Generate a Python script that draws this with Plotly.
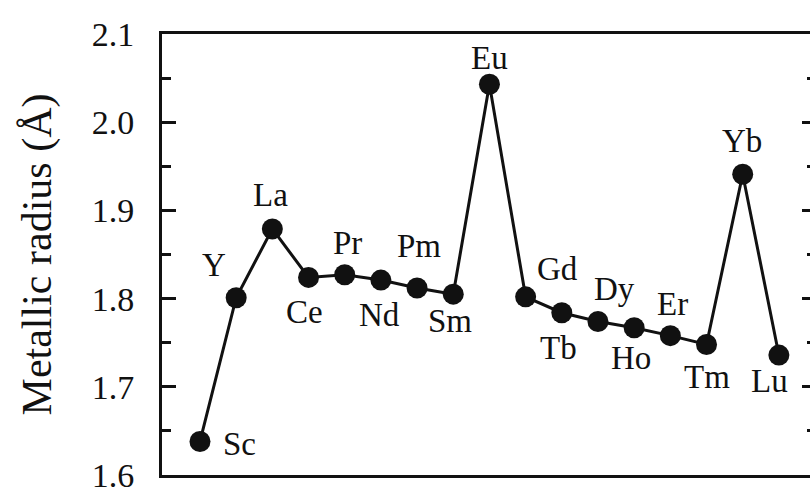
import plotly.graph_objects as go

# Metallic radii of the rare-earth elements
elements = ["Sc", "Y", "La", "Ce", "Pr", "Nd", "Pm", "Sm", "Eu",
            "Gd", "Tb", "Dy", "Ho", "Er", "Tm", "Yb", "Lu"]
radius = [1.638, 1.801, 1.879, 1.824, 1.827, 1.821, 1.812, 1.805, 2.043,
          1.802, 1.784, 1.774, 1.767, 1.758, 1.748, 1.941, 1.736]

# label offsets (pixels) relative to each point
label_dx = [40, -22, -2, -4, 3, -1, 2, -3, 0, 32, -3, 17, -3, 2, 0, -1, -9]
label_dy = [3, -33, -34, 35, -32, 35, -42, 27, -26, -28, 35, -33, 30, -32, 33, -33, 26]

idx = list(range(len(elements)))
FONT = "Times New Roman"

fig = go.Figure()
fig.add_trace(go.Scatter(
    x=idx, y=radius, mode="lines+markers",
    line=dict(color="#111111", width=3),
    marker=dict(color="#111111", size=21),
    hoverinfo="skip", showlegend=False,
))
# invisible companion trace so the right-hand tick axis is rendered
fig.add_trace(go.Scatter(
    x=idx, y=radius, yaxis="y2", mode="markers",
    marker=dict(opacity=0), hoverinfo="skip", showlegend=False,
))

annotations = []
for i, (name, r) in enumerate(zip(elements, radius)):
    annotations.append(dict(
        x=i, y=r, xref="x", yref="y", text=name, showarrow=False,
        xshift=label_dx[i], yshift=-label_dy[i],
        font=dict(family=FONT, size=33, color="#111111"),
    ))

fig.update_layout(
    width=810, height=487,
    margin=dict(l=162, r=0, t=34, b=12),
    paper_bgcolor="white", plot_bgcolor="white",
    font=dict(family=FONT, color="#111111"),
    annotations=annotations,
    xaxis=dict(
        range=[-1.05, 16.86], showgrid=False, zeroline=False,
        showticklabels=False, ticks="", automargin=False,
        showline=True, mirror=True, linecolor="#111111", linewidth=3,
    ),
    yaxis=dict(
        range=[1.6, 2.1], dtick=0.1, tick0=1.6, tickformat=".1f",
        showgrid=False, zeroline=False, automargin=False,
        ticks="inside", ticklen=14, tickwidth=3, tickcolor="#111111",
        minor=dict(dtick=0.05, ticks="inside", ticklen=9, tickwidth=3,
                   tickcolor="#111111", showgrid=False),
        showline=True, mirror=False, linecolor="#111111", linewidth=3,
        tickfont=dict(family=FONT, size=34, color="#111111"),
        ticklabelstandoff=18, ticklabeloverflow="allow",
        title=dict(text="Metallic radius (Å)", standoff=28,
                   font=dict(family=FONT, size=42, color="#111111")),
    ),
    yaxis2=dict(
        range=[1.6, 2.1], dtick=0.1, tick0=1.6, overlaying="y", side="right",
        showgrid=False, zeroline=False, showline=False, showticklabels=False,
        automargin=False,
        ticks="inside", ticklen=8, tickwidth=3, tickcolor="#111111",
        minor=dict(dtick=0.05, ticks="inside", ticklen=3, tickwidth=3,
                   tickcolor="#111111", showgrid=False),
    ),
)

fig.write_html("out.html")
